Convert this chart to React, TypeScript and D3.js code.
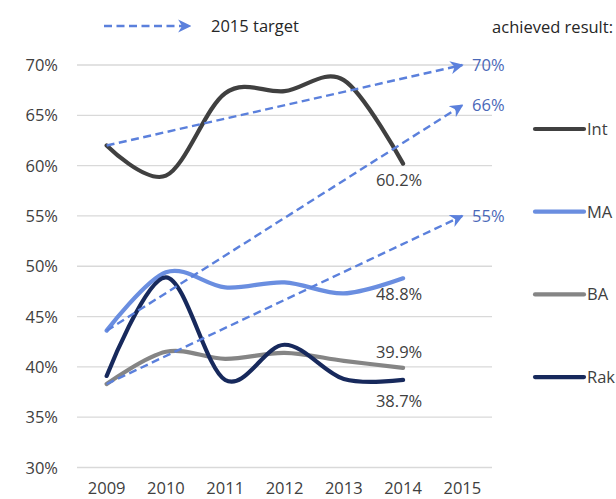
import React from "react";
import * as d3 from "d3";

const width = 616;
const height = 499;
const margin = { top: 65, right: 124, bottom: 31.5, left: 77 };

const years = ["2009", "2010", "2011", "2012", "2013", "2014", "2015"];
const yTicks = [30, 35, 40, 45, 50, 55, 60, 65, 70];

const intValues = [62.0, 59.0, 67.2, 67.4, 68.5, 60.2];
const maValues = [43.6, 49.4, 47.9, 48.4, 47.3, 48.8];
const baValues = [38.3, 41.5, 40.8, 41.4, 40.6, 39.9];
const rakValues = [39.1, 48.9, 38.7, 42.2, 38.8, 38.7];

const targets = [70, 66, 55];

const series = [
  { name: "Int", values: intValues, color: "#404040", label: "60.2%", dy: 22 },
  { name: "MA", values: maValues, color: "#6a8ee0", label: "48.8%", dy: 22 },
  { name: "BA", values: baValues, color: "#858585", label: "39.9%", dy: -10 },
  { name: "Rak", values: rakValues, color: "#17295c", label: "38.7%", dy: 27 },
];

// which series each target arrow starts from
const targetFrom = [intValues, maValues, baValues];

const font = "'Open Sans', 'Noto Sans', sans-serif";
const fs = 16.5;
const arrowColor = "#5b80dc";

export default function App() {
  const x = d3
    .scalePoint()
    .domain(years)
    .range([margin.left, width - margin.right])
    .padding(0.5);
  const y = d3
    .scaleLinear()
    .domain([30, 70])
    .range([height - margin.bottom, margin.top]);

  const line = d3
    .line<number>()
    .x((d, i) => x(years[i])!)
    .y((d) => y(d))
    .curve(d3.curveCatmullRom.alpha(0));

  const legendY = (i: number) => 129 + i * 82.7;

  return (
    <svg width={width} height={height} style={{ position: "absolute", left: 0, top: 0 }}>
      <defs>
        <marker id="arr" viewBox="0 0 10 10" refX="9" refY="5" markerWidth="5.5" markerHeight="5.5" orient="auto" markerUnits="strokeWidth">
          <path d="M0,0 L10,5 L0,10 L3,5 Z" fill={arrowColor} />
        </marker>
      </defs>
      {yTicks.map((t) => (
        <g key={t}>
          <line x1={margin.left} x2={width - margin.right} y1={y(t)} y2={y(t)} stroke="#d9d9d9" strokeWidth={1.3} />
          <text x={58} y={y(t) + 6} textAnchor="end" fontFamily={font} fontSize={fs} fill="#404040">
            {t}%
          </text>
        </g>
      ))}
      {years.map((yr) => (
        <text key={yr} x={x(yr)} y={494} textAnchor="middle" fontFamily={font} fontSize={fs} fill="#404040">
          {yr}
        </text>
      ))}
      {series.map((s) => (
        <path key={s.name} d={line(s.values)!} fill="none" stroke={s.color} strokeWidth={4.2} strokeLinecap="round" />
      ))}
      {targets.map((t, i) => (
        <g key={t}>
          <line
            x1={x("2009")}
            y1={y(targetFrom[i][0])}
            x2={x("2015")}
            y2={y(t)}
            stroke={arrowColor}
            strokeWidth={2.4}
            strokeDasharray="8,4.5"
            markerEnd="url(#arr)"
          />
          <text x={472} y={y(t) + 6} fontFamily={font} fontSize={fs} fill="#4a68b8">
            {t}%
          </text>
        </g>
      ))}
      {series.map((s) => (
        <text
          key={s.name}
          x={x("2014")! - 4}
          y={y(s.values[5]) + s.dy}
          textAnchor="middle"
          fontFamily={font}
          fontSize={fs}
          fill="#404040"
        >
          {s.label}
        </text>
      ))}
      {series.map((s, i) => (
        <g key={s.name}>
          <line x1={535} x2={584} y1={legendY(i)} y2={legendY(i)} stroke={s.color} strokeWidth={4.2} strokeLinecap="round" />
          <text x={587} y={legendY(i) + 6} fontFamily={font} fontSize={fs} fill="#404040">
            {s.name}
          </text>
        </g>
      ))}
      <line x1={104} x2={190} y1={26} y2={26} stroke={arrowColor} strokeWidth={2.4} strokeDasharray="8,4.5" markerEnd="url(#arr)" />
      <text x={211} y={32} fontFamily={font} fontSize={fs} fill="#262626">
        2015 target
      </text>
      <text x={613} y={33} textAnchor="end" fontFamily={font} fontSize={fs} fill="#262626">
        achieved result:
      </text>
    </svg>
  );
}
